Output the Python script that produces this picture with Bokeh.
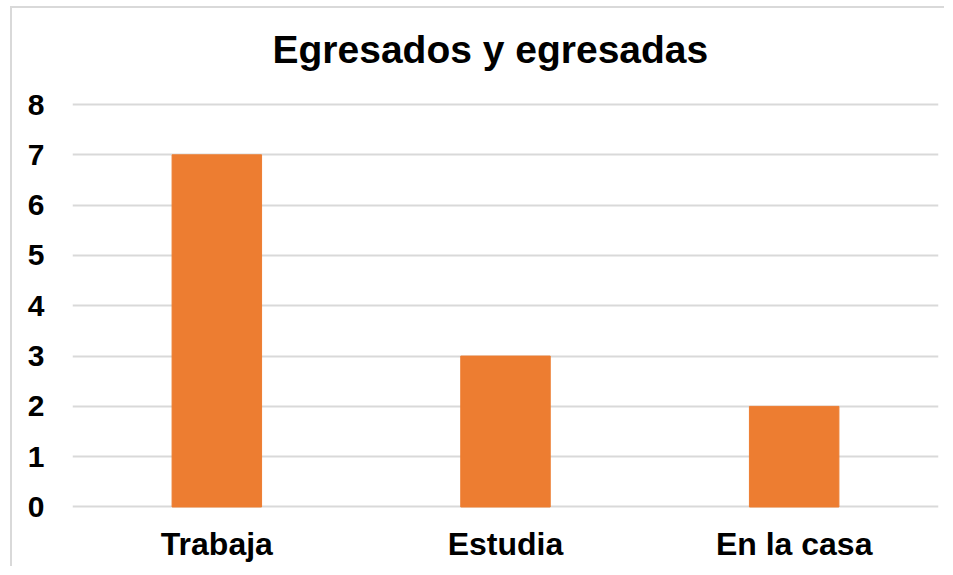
from bokeh.plotting import figure
from bokeh.models import FactorRange, Range1d, FixedTicker, ColumnDataSource
from bokeh.embed import file_html
from bokeh.resources import INLINE

title_text = "Egresados y egresadas"
categories = ["Trabaja", "Estudia", "En la casa"]
values = [7, 3, 2]
y_ticks = [0, 1, 2, 3, 4, 5, 6, 7, 8]

src = ColumnDataSource(dict(cat=categories, val=values))

p = figure(width=944, height=571, x_range=FactorRange(*categories, range_padding=0),
           y_range=Range1d(-0.03, 8.1), output_backend="svg", toolbar_location=None,
           min_border_left=72, min_border_right=6, min_border_top=104, min_border_bottom=58)

p.vbar(x="cat", bottom=0, top="val", width=0.31, source=src, color="#ED7D31", line_color="#ED7D31")

p.title.text = title_text
p.title.align = "left"
p.title.offset = 200
p.title.text_font = "Liberation Sans"
p.title.text_font_style = "bold"
p.title.text_font_size = "39px"
p.title.text_color = "#000000"
p.title.standoff = 57

p.outline_line_color = None
p.background_fill_color = "white"
p.border_fill_color = None

p.xgrid.grid_line_color = None
p.ygrid.grid_line_color = "#D9D9D9"
p.ygrid.grid_line_width = 2

p.yaxis.ticker = FixedTicker(ticks=y_ticks)
for ax in (p.xaxis, p.yaxis):
    ax.axis_line_color = None
    ax.major_tick_line_color = None
    ax.minor_tick_line_color = None
    ax.major_label_text_font = "Liberation Sans"
    ax.major_label_text_font_style = "bold"
    ax.major_label_text_color = "#000000"
p.yaxis.major_label_text_font_size = "30px"
p.yaxis.major_label_standoff = 22
p.xaxis.major_label_text_font_size = "32px"
p.xaxis.major_label_standoff = 11

p.styles = {
    "margin-top": "-5px",
    "background": ("linear-gradient(#d9d9d9,#d9d9d9) 10px 11px / 2px 100% no-repeat, "
                   "linear-gradient(#d9d9d9,#d9d9d9) 10px 11px / 100% 2px no-repeat, white"),
}

open("out.html", "w").write(file_html(p, INLINE))
